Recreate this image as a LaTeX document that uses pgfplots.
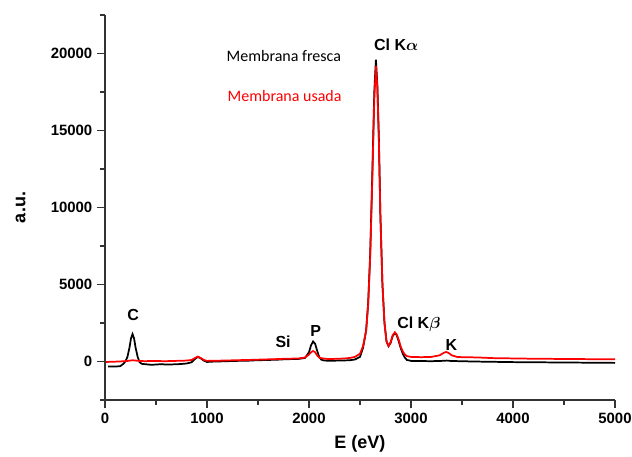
\documentclass[border=0pt]{standalone}
\usepackage{amsmath}
\usepackage{fontspec}
\setmainfont{Liberation Sans}
\newfontfamily\calibri{Carlito}
\usepackage{pgfplots}
\pgfplotsset{compat=1.18}
\begin{document}
\begin{tikzpicture}
\begin{axis}[
  at={(0,0)}, anchor=south west,
  scale only axis, width=382.5pt, height=288.75pt,
  xmin=0, xmax=5000, ymin=-2500, ymax=22500,
  axis x line*=bottom, axis y line*=left,
  axis line style={-, line width=1.1pt, color=black!80},
  xtick={0,1000,...,5000}, minor xtick={500,1500,...,4500},
  ytick={0,5000,...,20000}, minor ytick={-2500,2500,...,22500},
  scaled y ticks=false, scaled x ticks=false,
  tick style={line width=1.1pt, color=black!80},
  tick align=outside,
  major tick length=6pt, minor tick length=3.5pt,
  /pgf/number format/assume math mode=true,
  /pgf/number format/set thousands separator={},
  /pgf/number format/fixed,
  ticklabel style={font=\fontsize{11.2}{12}\selectfont\bfseries},
  xlabel={E (eV)}, ylabel={a.u.},
  label style={font=\fontsize{13.5}{15}\selectfont\bfseries},
  xlabel style={yshift=-2pt},
  ylabel style={yshift=12pt},
  clip=false,
]
\addplot[black, line width=1.3pt] coordinates {
(30,-330) (100,-330) (150,-300) (180,-150) (200,0) (220,300) (240,900) (255,1500)
(270,1780) (285,1500) (300,900) (320,300) (340,-50) (360,-150) (400,-180) (450,-210)
(500,-200) (550,-170) (600,-200) (650,-190) (700,-180) (750,-160) (800,-130) (850,-50)
(880,150) (910,300) (940,200) (970,50) (1000,-30) (1050,-10) (1100,0) (1150,10) (1200,20)
(1250,30) (1300,40) (1350,45) (1400,50) (1450,70) (1500,80) (1550,90) (1600,100) (1650,110)
(1700,120) (1750,140) (1800,150) (1850,160) (1900,170) (1960,230) (2000,600) (2020,1050)
(2040,1300) (2060,1150) (2080,700) (2100,300) (2120,120) (2150,60) (2200,50) (2250,55)
(2300,60) (2350,70) (2400,80) (2450,130) (2500,300) (2530,900) (2560,2000) (2580,3800)
(2600,7000) (2620,12000) (2640,17500) (2656,19600) (2670,18000) (2685,14500) (2700,9500)
(2720,5000) (2740,2500) (2760,1300) (2780,1000) (2800,1200) (2820,1650) (2842,1850)
(2860,1700) (2880,1300) (2900,850) (2920,500) (2940,250) (2960,100) (3000,40) (3100,30)
(3200,20) (3300,40) (3350,60) (3400,30) (3500,20) (3600,0) (3700,-10) (3800,-20) (3900,-30)
(4000,-40) (4200,-50) (4400,-60) (4600,-70) (4800,-80) (5000,-90)
};
\addplot[red, line width=1.3pt] coordinates {
(10,-30) (100,-10) (200,20) (270,80) (350,30) (400,20) (450,40) (500,30) (600,20) (650,35)
(700,40) (750,50) (800,60) (850,100) (880,220) (910,320) (940,220) (970,100) (1000,40)
(1050,45) (1100,50) (1150,60) (1200,70) (1250,75) (1300,80) (1350,95) (1400,100) (1450,110)
(1500,120) (1550,130) (1600,140) (1650,150) (1700,160) (1750,175) (1800,180) (1850,190)
(1900,200) (1960,260) (2000,450) (2020,600) (2040,680) (2060,600) (2080,400) (2100,250)
(2150,180) (2200,160) (2250,170) (2300,180) (2350,200) (2400,230) (2450,300) (2500,500)
(2530,1000) (2560,2000) (2580,3700) (2600,6800) (2620,11700) (2640,17000) (2656,19200)
(2670,17800) (2685,14300) (2700,9400) (2720,5000) (2740,2500) (2760,1300) (2780,1000)
(2800,1250) (2820,1700) (2842,1900) (2860,1750) (2880,1400) (2900,950) (2920,650)
(2940,450) (2960,350) (3000,300) (3100,280) (3200,300) (3280,400) (3320,560) (3345,620)
(3370,550) (3400,400) (3450,300) (3500,280) (3600,270) (3700,250) (3800,220) (3900,210)
(4000,200) (4200,180) (4400,170) (4600,160) (4800,150) (5000,140)
};
\begin{scope}[font=\fontsize{12}{14}\selectfont\bfseries]
\node at (axis cs:275,3040) {C};
\node at (axis cs:1746,1310) {Si};
\node at (axis cs:2067,1960) {P};
\node at (axis cs:2855,20570) {Cl K$\boldsymbol{\alpha}$};
\node at (axis cs:3077,2394) {Cl K$\boldsymbol{\beta}$};
\node at (axis cs:3397,1055) {K};
\end{scope}
\node[anchor=west, font=\calibri\fontsize{12}{14}\selectfont, black] at (axis cs:1147,19860) {Membrana fresca};
\node[anchor=west, font=\calibri\fontsize{12}{14}\selectfont, red] at (axis cs:1157,17210) {Membrana usada};
\end{axis}
\pgfresetboundingbox
\path[use as bounding box] (-78.75pt,-42.75pt) rectangle (395.25pt,300pt);
\end{tikzpicture}
\end{document}
